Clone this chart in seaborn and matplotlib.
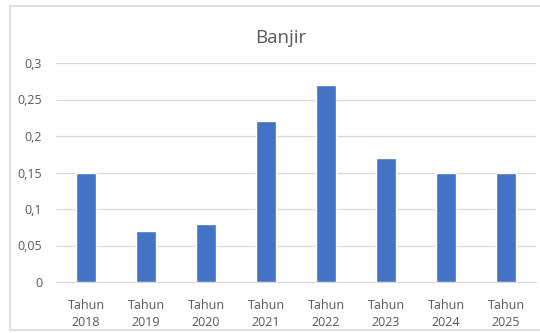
import numpy as np
import pandas as pd
import matplotlib.pyplot as plt
import seaborn as sns
from matplotlib.patches import Rectangle

years = ['2018', '2019', '2020', '2021', '2022', '2023', '2024', '2025']
values = [0.15, 0.07, 0.08, 0.22, 0.27, 0.17, 0.15, 0.15]
yticks = [0, 0.05, 0.1, 0.15, 0.2, 0.25, 0.3]

df = pd.DataFrame({'Tahun': ['Tahun\n' + y for y in years], 'Banjir': values})

sns.set_style('white')
plt.rcParams['font.family'] = ['Open Sans', 'DejaVu Sans']

fig = plt.figure(figsize=(5.4, 3.33), dpi=100)
ax = fig.add_axes([56 / 540, 1 - 282 / 333, 480 / 540, 219 / 333])

# bingkai grafik (sisi kanan terpotong)
fig.patches.append(Rectangle((10 / 540, 3 / 333), 540 / 540, 324 / 333, transform=fig.transFigure,
                             fill=False, edgecolor='#d9d9d9', linewidth=1.2))

sns.barplot(data=df, x='Tahun', y='Banjir', color='#4472C4', width=0.33, saturation=1, ax=ax, zorder=3)

ax.set_ylim(0, 0.3)
ax.set_yticks(yticks)
ax.set_yticklabels([('%g' % t).replace('.', ',') for t in yticks])
ax.yaxis.grid(True, color='#d9d9d9', linewidth=0.9, zorder=0)
ax.set_axisbelow(True)
for s in ['top', 'right', 'left']:
    ax.spines[s].set_visible(False)
ax.spines['bottom'].set_color('#d9d9d9')
ax.tick_params(axis='both', length=0, labelsize=9, labelcolor='#595959')
ax.tick_params(axis='y', pad=10)
ax.tick_params(axis='x', pad=12)
for lbl in ax.get_xticklabels():
    lbl.set_linespacing(1.45)
ax.set_xlabel('')
ax.set_ylabel('')
fig.text(281 / 540, 1 - 38 / 333, 'Banjir', fontsize=13.5, color='#595959', ha='center', va='center')

fig.savefig('out.png', dpi=100)
